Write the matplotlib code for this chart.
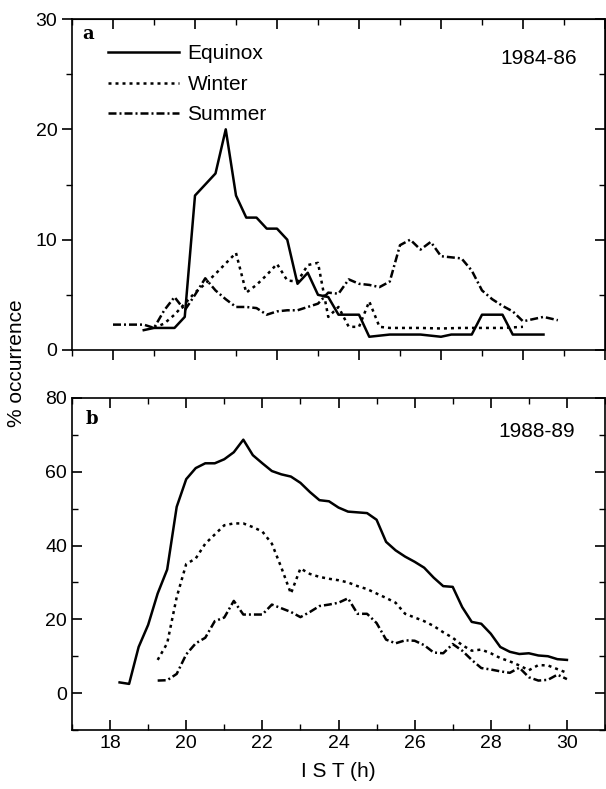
"""
plot.py - seasonal % occurrence vs IST, two epochs (1984-86, 1988-89)
"""

import matplotlib
matplotlib.use("Agg")
import matplotlib.pyplot as plt
from matplotlib.ticker import MultipleLocator

plt.rcParams["font.family"] = ["Liberation Sans", "DejaVu Sans"]

# ---- panel a : 1984-86 ----
a_equinox_t = [18.75, 19.0, 19.25, 19.5, 19.75, 20.0, 20.25, 20.5, 20.75, 21.0,
               21.25, 21.5, 21.75, 22.0, 22.25, 22.5, 22.75, 23.0, 23.25, 23.5,
               23.75, 24.0, 24.25, 24.5, 24.75, 25.0, 25.25, 25.5, 25.75, 26.0,
               26.25, 26.5, 26.75, 27.0, 27.25, 27.5, 27.75, 28.0, 28.25, 28.5]
a_equinox_v = [1.8, 2.0, 2.0, 2.0, 3.0, 14.0, 15.0, 16.0, 20.0, 14.0,
               12.0, 12.0, 11.0, 11.0, 10.0, 6.0, 7.0, 5.0, 4.8, 3.2,
               3.2, 3.2, 1.2, 1.3, 1.4, 1.4, 1.4, 1.4, 1.3, 1.2,
               1.4, 1.4, 1.4, 3.2, 3.2, 3.2, 1.4, 1.4, 1.4, 1.4]

a_winter_t = [19.0, 19.25, 19.5, 19.75, 20.0, 20.25, 20.5, 20.75, 21.0, 21.25,
              21.5, 21.75, 22.0, 22.25, 22.5, 22.75, 23.0, 23.25, 23.5, 23.75,
              24.0, 24.25, 24.5, 24.75, 25.0, 25.5, 26.0, 26.5, 27.0, 27.5, 28.0]
a_winter_v = [2.0, 2.4, 3.2, 4.2, 5.2, 6.0, 6.9, 7.85, 8.8, 5.2,
              5.9, 6.8, 7.8, 6.3, 6.2, 7.7, 7.9, 3.0, 3.9, 2.1,
              2.1, 4.4, 2.1, 2.0, 2.0, 2.0, 1.95, 2.0, 2.0, 2.0, 2.1]

a_summer_t = [18.0, 18.25, 18.5, 18.75, 19.0, 19.25, 19.5, 19.75, 20.0, 20.25,
              20.5, 20.75, 21.0, 21.25, 21.5, 21.75, 22.0, 22.25, 22.5, 22.75,
              23.0, 23.25, 23.5, 23.75, 24.0, 24.25, 24.5, 24.75, 25.0, 25.25,
              25.5, 25.75, 26.0, 26.25, 26.5, 26.75, 27.0, 27.25, 27.5, 27.75,
              28.0, 28.25, 28.5, 28.85]
a_summer_v = [2.3, 2.3, 2.3, 2.3, 2.0, 3.6, 4.8, 3.6, 5.0, 6.5,
              5.4, 4.6, 3.9, 3.9, 3.8, 3.2, 3.5, 3.6, 3.6, 3.9,
              4.2, 5.2, 5.1, 6.4, 6.0, 5.9, 5.7, 6.2, 9.5, 10.0,
              9.1, 9.8, 8.5, 8.4, 8.3, 7.2, 5.4, 4.6, 4.0, 3.5,
              2.6, 2.8, 3.0, 2.7]

# ---- panel b : 1988-89 ----
b_equinox_t = [18.25, 18.5, 18.75, 19.0, 19.25, 19.5, 19.75, 20.0, 20.25, 20.5,
               20.75, 21.0, 21.25, 21.5, 21.75, 22.0, 22.25, 22.5, 22.75, 23.0,
               23.25, 23.5, 23.75, 24.0, 24.25, 24.5, 24.75, 25.0, 25.25, 25.5,
               25.75, 26.0, 26.25, 26.5, 26.75, 27.0, 27.25, 27.5, 27.75, 28.0,
               28.25, 28.5, 28.75, 29.0, 29.25, 29.5, 29.75, 30.0]
b_equinox_v = [2.9, 2.5, 12.5, 18.5, 27.0, 33.5, 50.5, 58.0, 61.0, 62.3,
               62.3, 63.4, 65.3, 68.7, 64.5, 62.3, 60.2, 59.3, 58.7, 57.0,
               54.5, 52.3, 52.0, 50.3, 49.2, 49.0, 48.8, 47.0, 41.0, 38.7,
               37.0, 35.6, 34.0, 31.3, 29.0, 28.8, 23.3, 19.3, 18.8, 16.1,
               12.5, 11.2, 10.6, 10.8, 10.2, 10.0, 9.2, 9.0]

b_winter_t = [19.25, 19.5, 19.75, 20.0, 20.25, 20.5, 20.75, 21.0, 21.25, 21.5,
              21.75, 22.0, 22.25, 22.5, 22.75, 23.0, 23.25, 23.5, 23.75, 24.0,
              24.25, 24.5, 24.75, 25.0, 25.25, 25.5, 25.75, 26.0, 26.25, 26.5,
              26.75, 27.0, 27.25, 27.5, 27.75, 28.0, 28.25, 28.5, 28.75, 29.0,
              29.25, 29.5, 29.75, 30.0]
b_winter_v = [9.0, 13.5, 26.0, 35.0, 36.5, 40.5, 43.0, 45.5, 46.0, 46.0,
              45.0, 43.8, 40.5, 34.0, 27.0, 33.8, 32.3, 31.5, 31.0, 30.6,
              30.0, 29.0, 28.2, 27.0, 25.8, 24.5, 21.5, 20.5, 19.5, 18.2,
              16.5, 15.0, 13.0, 11.5, 11.8, 10.8, 9.5, 8.6, 7.5, 6.2,
              7.6, 7.5, 6.5, 5.5]

b_summer_t = [19.25, 19.5, 19.75, 20.0, 20.25, 20.5, 20.75, 21.0, 21.25, 21.5,
              21.75, 22.0, 22.25, 22.5, 22.75, 23.0, 23.25, 23.5, 23.75, 24.0,
              24.25, 24.5, 24.75, 25.0, 25.25, 25.5, 25.75, 26.0, 26.25, 26.5,
              26.75, 27.0, 27.25, 27.5, 27.75, 28.0, 28.25, 28.5, 28.75, 29.0,
              29.25, 29.5, 29.75, 30.0]
b_summer_v = [3.4, 3.5, 5.2, 10.5, 13.5, 15.0, 19.5, 20.5, 25.0, 21.3,
              21.3, 21.3, 24.0, 23.0, 22.0, 20.6, 22.0, 23.6, 24.0, 24.5,
              25.7, 21.5, 21.5, 19.0, 14.5, 13.5, 14.3, 14.2, 13.0, 11.0,
              10.8, 13.3, 11.5, 9.0, 6.8, 6.4, 5.9, 5.5, 6.9, 4.3,
              3.4, 3.6, 5.0, 3.8]

labels = ["Equinox", "Winter", "Summer"]

LW = 1.8
styles = {
    "Equinox": "-",
    "Winter": (0, (1.2, 1.6)),
    "Summer": (0, (3.2, 1.2, 0.8, 1.2)),
}
FS_TICK = 14
FS = 15


def style_axis(ax, left_out):
    for s in ax.spines.values():
        s.set_linewidth(1.2)
    ax.xaxis.set_major_locator(MultipleLocator(2))
    ax.xaxis.set_minor_locator(MultipleLocator(1))
    ax.tick_params(which="major", length=7, width=1.2, labelsize=FS_TICK)
    ax.tick_params(which="minor", length=4, width=1.0)
    if left_out:
        ax.tick_params(which="both", direction="out", top=False, right=False)
    else:
        ax.tick_params(which="both", direction="in", top=True, right=True)


W, H = 606, 789
fig = plt.figure(figsize=(W / 100, H / 100), dpi=100)

L = 72 / W
R = 1.0 - 1 / W

# panel a
ax_a = fig.add_axes([L, 1 - 350 / H, R - L, (350 - 19) / H])
for lab, t, v in zip(labels, [a_equinox_t, a_winter_t, a_summer_t],
                     [a_equinox_v, a_winter_v, a_summer_v]):
    ax_a.plot(t, v, color="black", lw=LW, ls=styles[lab], label=lab)
ax_a.set_xlim(17, 30)
ax_a.set_ylim(0, 30)
style_axis(ax_a, left_out=True)
ax_a.yaxis.set_major_locator(MultipleLocator(10))
ax_a.yaxis.set_minor_locator(MultipleLocator(5))
ax_a.tick_params(labelbottom=False)
# inward ticks on top and right of panel a
sx = ax_a.secondary_xaxis("top")
sx.xaxis.set_major_locator(MultipleLocator(2))
sx.xaxis.set_minor_locator(MultipleLocator(1))
sx.tick_params(which="major", direction="in", length=7, width=1.2, labeltop=False)
sx.tick_params(which="minor", direction="in", length=4, width=1.0)
sy = ax_a.secondary_yaxis("right")
sy.yaxis.set_major_locator(MultipleLocator(10))
sy.yaxis.set_minor_locator(MultipleLocator(5))
sy.tick_params(which="major", direction="in", length=7, width=1.2, labelright=False)
sy.tick_params(which="minor", direction="in", length=4, width=1.0)

ax_a.text(0.02, 0.982, "a", transform=ax_a.transAxes, fontsize=13,
          fontweight="bold", family="DejaVu Serif", va="top", ha="left")
ax_a.text(0.947, 0.882, "1984-86", transform=ax_a.transAxes, fontsize=FS,
          ha="right", va="center")
ax_a.legend(loc="upper left", bbox_to_anchor=(0.067, 0.924), frameon=False,
            fontsize=FS, handlelength=3.4, handletextpad=0.43,
            labelspacing=0.56, borderaxespad=0, borderpad=0)

# panel b
ax_b = fig.add_axes([L, 1 - 730 / H, R - L, (730 - 398) / H])
for lab, t, v in zip(labels, [b_equinox_t, b_winter_t, b_summer_t],
                     [b_equinox_v, b_winter_v, b_summer_v]):
    ax_b.plot(t, v, color="black", lw=LW, ls=styles[lab], label=lab)
ax_b.set_xlim(17, 31)
ax_b.set_ylim(-10, 80)
style_axis(ax_b, left_out=False)
ax_b.set_xticks([18, 20, 22, 24, 26, 28, 30])
ax_b.set_yticks([0, 20, 40, 60, 80])
ax_b.yaxis.set_minor_locator(MultipleLocator(10))
ax_b.text(0.025, 0.965, "b", transform=ax_b.transAxes, fontsize=13,
          fontweight="bold", family="DejaVu Serif", va="top", ha="left")
ax_b.text(0.944, 0.898, "1988-89", transform=ax_b.transAxes, fontsize=FS,
          ha="right", va="center")
ax_b.set_xlabel("I S T (h)", fontsize=FS, labelpad=7)

fig.text(0.028, 0.54, "% occurrence", rotation=90, fontsize=FS,
         ha="center", va="center")

fig.savefig("out.png", dpi=100)
